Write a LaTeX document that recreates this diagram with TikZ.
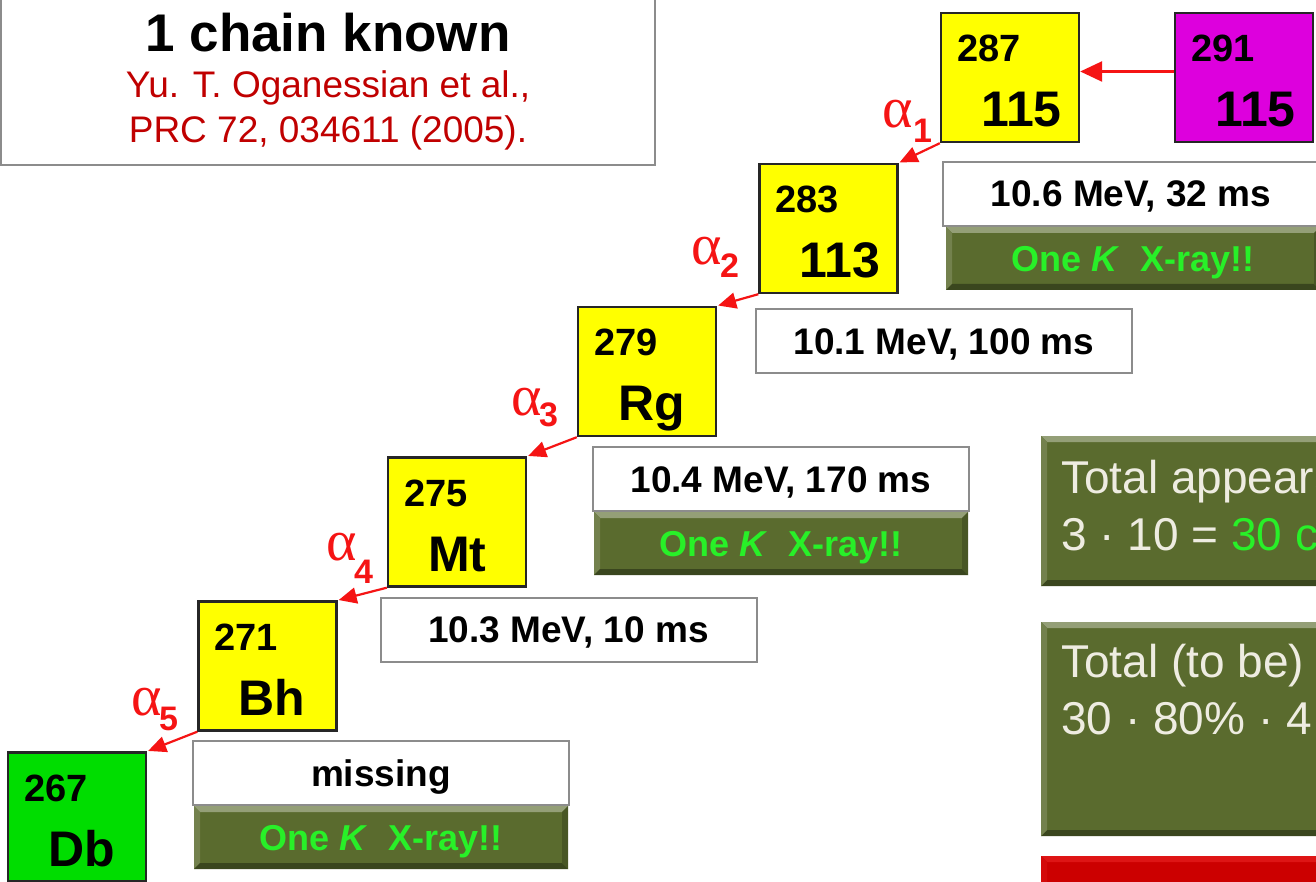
\documentclass[tikz,border=0pt]{standalone}
\usepackage{fontspec}
\setmainfont{Liberation Sans}
\newfontfamily\greekserif{Liberation Serif}
\usetikzlibrary{calc,arrows.meta}
\newcommand\myfs[1]{\fontsize{#1}{#1}\selectfont}
\definecolor{nucyellow}{RGB}{255,255,0}
\definecolor{nucmag}{RGB}{221,0,221}
\definecolor{nucgreen}{RGB}{0,221,0}
\definecolor{olive}{RGB}{90,107,46}
\definecolor{xgreen}{RGB}{40,240,40}
\definecolor{paletext}{RGB}{238,236,225}
\definecolor{arrred}{RGB}{245,20,20}
\definecolor{refred}{RGB}{192,0,0}
\definecolor{boxgray}{RGB}{140,140,140}
\definecolor{alarmred}{RGB}{204,0,0}
\definecolor{alarmL}{RGB}{255,60,60}
\tikzset{
  nuc/.style={draw=black!85, line width=2.4pt, minimum width=138pt, minimum height=129pt, inner sep=0pt},
  mass/.style={anchor=base west, font=\myfs{38}\bfseries, inner sep=0pt},
  elem/.style={anchor=base west, font=\myfs{50}\bfseries, inner sep=0pt},
  lbl/.style={draw=boxgray, fill=white, line width=2pt, minimum width=376pt, minimum height=64pt, font=\myfs{37}\bfseries, inner sep=0pt, text height=26pt, text depth=0pt},
  bevel/.style 2 args={fill=#1, path picture={
      \coordinate (pa) at (path picture bounding box.north west);
      \coordinate (pb) at (path picture bounding box.north east);
      \coordinate (pc) at (path picture bounding box.south east);
      \coordinate (pd) at (path picture bounding box.south west);
      \fill[#2!35!#1] (pa) -- (pb) -- ($(pb)+(-6,6)$) -- ($(pa)+(6,6)$) -- cycle;
      \fill[#2!15!#1] (pa) -- ($(pa)+(6,6)$) -- ($(pd)+(6,-6)$) -- (pd) -- cycle;
      \fill[black!35!#1] (pd) -- (pc) -- ($(pc)+(-6,-6)$) -- ($(pd)+(6,-6)$) -- cycle;
      \fill[black!20!#1] (pb) -- (pc) -- ($(pc)+(-6,-6)$) -- ($(pb)+(-6,6)$) -- cycle;
  }},
  xray/.style={bevel={olive}{white}, minimum width=374pt, minimum height=63pt, font=\myfs{36}\bfseries, text=xgreen, inner sep=0pt, text height=26pt, text depth=0pt},
  alph/.style={draw=arrred, line width=2.2pt, -{Triangle[length=18pt,width=16pt]}, shorten >=1pt},
  agr/.style={anchor=base west, text=arrred, font=\greekserif\myfs{58}, inner sep=0pt},
  adig/.style={anchor=base west, text=arrred, font=\myfs{34}\bfseries, inner sep=0pt},
  info/.style={bevel={olive}{white}, anchor=north west, minimum width=400pt, inner sep=0pt},
  infotext/.style={anchor=base west, text=paletext, font=\myfs{46}, inner sep=0pt}
}
\begin{document}
\begin{tikzpicture}[x=1pt,y=-1pt]
\useasboundingbox (0,0) rectangle (1316,882);
\begin{scope}
\clip (0,0) rectangle (1316,882);
\fill[white] (0,0) rectangle (1316,882);

% title box
\draw[boxgray, line width=2pt, fill=white] (1,-10) rectangle (655,165);
\node[font=\myfs{53}\bfseries, anchor=base, inner sep=0pt] (title) at (328,52) {1 chain known};
\node[font=\myfs{37}, text=refred, anchor=base, inner sep=0pt] (ref1) at (328,98) {Yu. T. Oganessian et al.,};
\node[font=\myfs{37}, text=refred, anchor=base, inner sep=0pt] (ref2) at (328,143) {PRC 72, 034611 (2005).};

% nuclide boxes
\node[nuc, fill=nucmag] (n291) at (1244,77.5) {};
\node[nuc, fill=nucyellow] (n287) at (1010,77.5) {};
\node[nuc, fill=nucyellow] (n283) at (828.5,228.5) {};
\node[nuc, fill=nucyellow] (n279) at (647,371.5) {};
\node[nuc, fill=nucyellow] (n275) at (457,522) {};
\node[nuc, fill=nucyellow] (n271) at (267.5,666) {};
\node[nuc, fill=nucgreen] (n267) at (77,817) {};

\foreach \n/\m/\e in {291/291/115, 287/287/115, 283/283/113, 279/279/Rg, 275/275/Mt, 271/271/Bh, 267/267/Db}{
  \node[mass] (m\n) at ($(n\n.north west)+(17,50)$) {\m};
  \node[elem] (e\n) at ($(n\n.north west)+(41,115)$) {\e};
}

% capture arrow
\draw[draw=arrred, line width=2.6pt, -{Triangle[length=22pt,width=20pt]}] ([yshift=6pt]n291.west) -- ([yshift=6pt]n287.east);

% alpha arrows
\draw[alph] (n287.south west) -- (n283.north east);
\draw[alph] (n283.south west) -- (n279.north east);
\draw[alph] (n279.south west) -- (n275.north east);
\draw[alph] (n275.south west) -- (n271.north east);
\draw[alph] (n271.south west) -- (n267.north east);

\node[agr] (ag1) at (882,128) {α}; \node[adig] (ad1) at (913,143) {1};
\node[agr] (ag2) at (691,265) {α}; \node[adig] (ad2) at (720,278) {2};
\node[agr] (ag3) at (511,415) {α}; \node[adig] (ad3) at (539,426) {3};
\node[agr] (ag4) at (326,560) {α}; \node[adig] (ad4) at (354,583) {4};
\node[agr] (ag5) at (131,715) {α}; \node[adig] (ad5) at (159,730) {5};

% energy labels
\node[lbl] (l1) at (1131,194) {10.6 MeV, 32 ms};
\node[xray] (x1) at (1133,258.5) {One \textit{K}\ \ X-ray!!};
\node[lbl] (l2) at (944,341) {10.1 MeV, 100 ms};
\node[lbl] (l3) at (781,479) {10.4 MeV, 170 ms};
\node[xray] (x3) at (781,543.5) {One \textit{K}\ \ X-ray!!};
\node[lbl] (l4) at (568.5,629.5) {10.3 MeV, 10 ms};
\node[lbl] (l5) at (381,773) {missing};
\node[xray] (x5) at (381,837.5) {One \textit{K}\ \ X-ray!!};

% right info boxes
\node[info, minimum height=150pt] (i1) at (1041,436) {};
\node[infotext] (t1a) at (1061,493) {Total appearance};
\node[infotext] (t1b) at (1061,550) {3 · 10 = \textcolor{xgreen}{30 counts}};
\node[info, minimum height=214pt] (i2) at (1041,622) {};
\node[infotext] (t2a) at (1061,677) {Total (to be) detected};
\node[infotext] (t2b) at (1061,734) {30 · 80\% · 4};
\node[bevel={alarmred}{alarmL}, anchor=north west, minimum width=400pt, minimum height=80pt, inner sep=0pt] (i3) at (1041,856) {};
\end{scope}
\end{tikzpicture}
\end{document}
